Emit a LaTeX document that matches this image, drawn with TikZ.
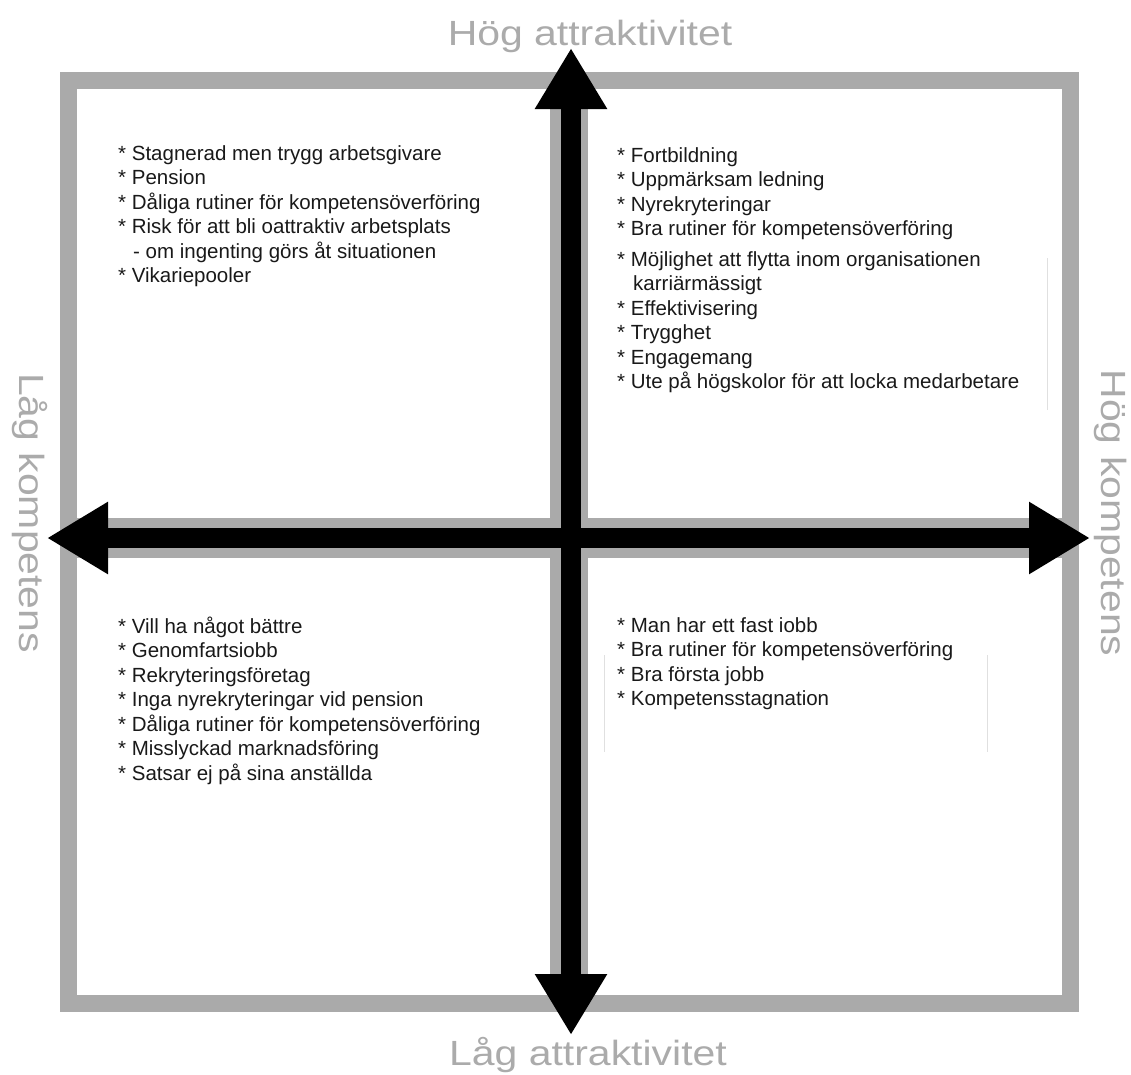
\documentclass[tikz,border=0pt]{standalone}
\usepackage{fontspec}
\setmainfont{Liberation Sans}
\usetikzlibrary{arrows.meta}
\definecolor{framegray}{HTML}{AAAAAA}
\definecolor{labelgray}{HTML}{ABABAB}
\definecolor{faintgray}{HTML}{E0E0E0}
\tikzset{
  item/.style={anchor=base west, inner sep=0pt, text=black!90, font=\fontsize{20.5}{24.5}\selectfont},
  axislabel/.style={inner sep=0pt, text=labelgray, font=\fontsize{35}{40}\selectfont},
  axisarrow/.style={line width=20pt, {Triangle[length=61pt,width=68pt]}-{Triangle[length=61pt,width=68pt]}},
  framestroke/.style={draw=framegray, line width=17pt},
  faintline/.style={draw=faintgray, line width=1pt},
}
\begin{document}
\begin{tikzpicture}[x=1pt,y=-1pt]
\useasboundingbox (0,0) rectangle (1131,1074);
% frame and gray cross
\draw[framestroke] (68.5,80) rectangle (1070.5,1003);
\draw[draw=framegray, line width=40pt] (68.5,538) -- (1070.5,538);
\draw[draw=framegray, line width=38pt] (569,80) -- (569,1003);
% faint lines
\draw[faintline] (1047,258) -- (1047,410);
\draw[faintline] (604,655) -- (604,752);
\draw[faintline] (987,655) -- (987,752);
% axes
\coordinate (ytop) at (571,48);
\coordinate (ybot) at (571,1035);
\coordinate (xl) at (47,538);
\coordinate (xr) at (1090,538);
\draw[axisarrow] (xl) -- (xr);
\draw[axisarrow] (ytop) -- (ybot);
% axis labels
\node[axislabel, xscale=1.17, anchor=base] (hogattr) at (590,45) {Hög attraktivitet};
\node[axislabel, xscale=1.17, anchor=base] (lagattr) at (588,1065) {Låg attraktivitet};
\node[axislabel, rotate=-90, xscale=1.17] (lagkomp) at (30,513) {Låg kompetens};
\node[axislabel, rotate=-90, xscale=1.17] (hogkomp) at (1111,513) {Hög kompetens};
% top left
\node[item] (tl1) at (118,160) {* Stagnerad men trygg arbetsgivare};
\node[item] (tl2) at (118,184.5) {* Pension};
\node[item] (tl3) at (118,209) {* Dåliga rutiner för kompetensöverföring};
\node[item] (tl4) at (118,233.5) {* Risk för att bli oattraktiv arbetsplats};
\node[item] (tl5) at (133,258) {- om ingenting görs åt situationen};
\node[item] (tl6) at (118,282.5) {* Vikariepooler};
% top right
\node[item] (tr1) at (617,162) {* Fortbildning};
\node[item] (tr2) at (617,186.5) {* Uppmärksam ledning};
\node[item] (tr3) at (617,211) {* Nyrekryteringar};
\node[item] (tr4) at (617,235.5) {* Bra rutiner för kompetensöverföring};
\node[item] (tr5) at (617,266) {* Möjlighet att flytta inom organisationen};
\node[item] (tr6) at (633,290.5) {karriärmässigt};
\node[item] (tr7) at (617,315) {* Effektivisering};
\node[item] (tr8) at (617,339.5) {* Trygghet};
\node[item] (tr9) at (617,364) {* Engagemang};
\node[item] (tr10) at (617,388.5) {* Ute på högskolor för att locka medarbetare};
% bottom left
\node[item] (bl1) at (118,633) {* Vill ha något bättre};
\node[item] (bl2) at (118,657.5) {* Genomfartsiobb};
\node[item] (bl3) at (118,682) {* Rekryteringsföretag};
\node[item] (bl4) at (118,706.5) {* Inga nyrekryteringar vid pension};
\node[item] (bl5) at (118,731) {* Dåliga rutiner för kompetensöverföring};
\node[item] (bl6) at (118,755.5) {* Misslyckad marknadsföring};
\node[item] (bl7) at (118,780) {* Satsar ej på sina anställda};
% bottom right
\node[item] (br1) at (617,632) {* Man har ett fast iobb};
\node[item] (br2) at (617,656.5) {* Bra rutiner för kompetensöverföring};
\node[item] (br3) at (617,681) {* Bra första jobb};
\node[item] (br4) at (617,705.5) {* Kompetensstagnation};
\end{tikzpicture}
\end{document}
